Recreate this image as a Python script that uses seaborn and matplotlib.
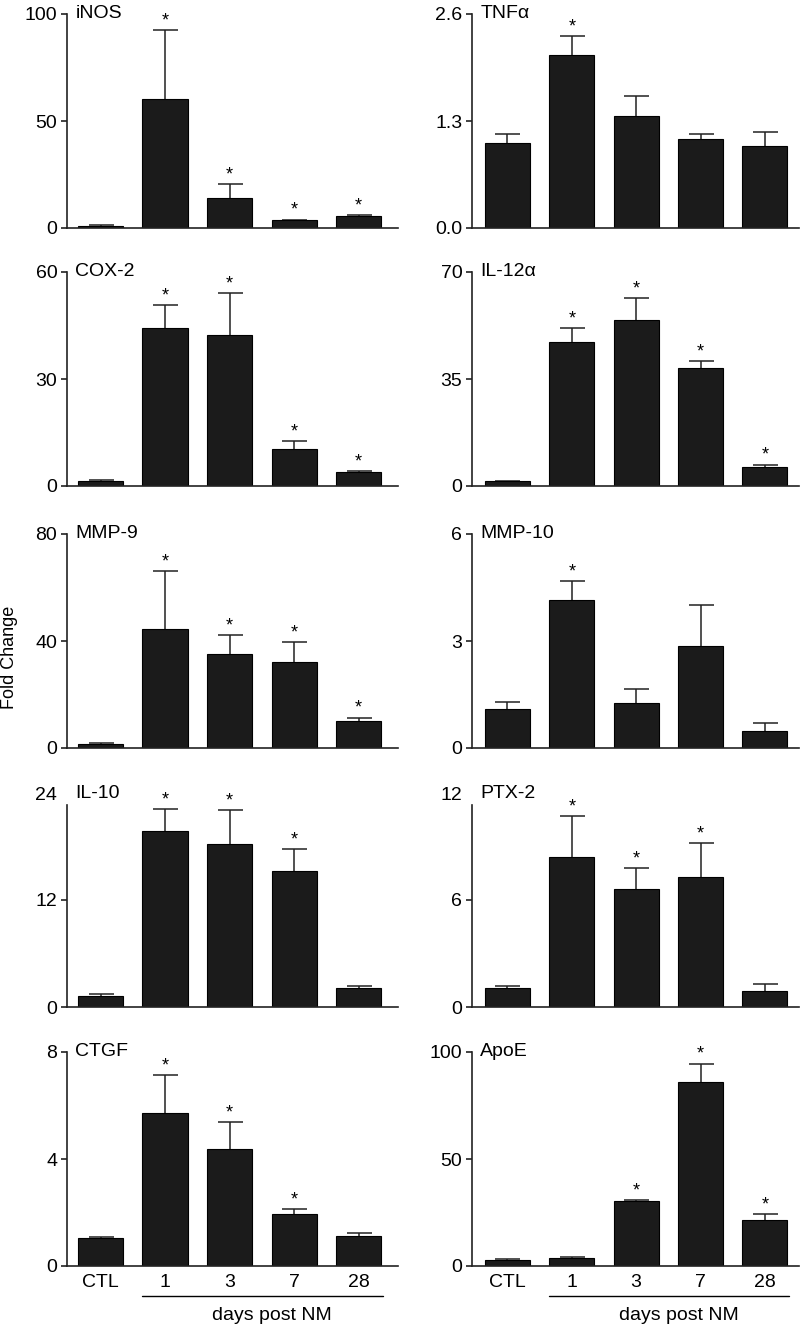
import matplotlib.pyplot as plt
import seaborn as sns
import pandas as pd

sns.set_theme(style="ticks")
plt.rcParams['font.family'] = ['Liberation Sans', 'DejaVu Sans']

# groups on the x axis
groups = ["CTL", "1", "3", "7", "28"]

# mean fold change and top of the (upper) error bar
inos = [1.0, 60.2, 14.2, 3.6, 5.5]
inos_top = [1.3, 92.5, 20.6, 3.9, 5.9]
inos_sig = [0, 1, 1, 1, 1]
inos_ticks = [0, 50, 100]

tnf = [1.03, 2.10, 1.355, 1.083, 0.998]
tnf_top = [1.136, 2.33, 1.60, 1.14, 1.168]
tnf_sig = [0, 1, 0, 0, 0]
tnf_ticks = [0.0, 1.3, 2.6]

cox2 = [1.5, 44.2, 42.2, 10.5, 3.8]
cox2_top = [1.8, 50.7, 54.2, 12.6, 4.1]
cox2_sig = [0, 1, 1, 1, 1]
cox2_ticks = [0, 30, 60]

il12 = [1.5, 47.1, 54.2, 38.6, 6.3]
il12_top = [1.75, 51.7, 61.4, 40.8, 7.0]
il12_sig = [0, 1, 1, 1, 1]
il12_ticks = [0, 35, 70]

mmp9 = [1.5, 44.4, 35.0, 32.1, 10.1]
mmp9_top = [2.0, 66.0, 42.3, 39.5, 11.4]
mmp9_sig = [0, 1, 1, 1, 1]
mmp9_ticks = [0, 40, 80]

mmp10 = [1.08, 4.14, 1.27, 2.85, 0.47]
mmp10_top = [1.28, 4.69, 1.66, 4.00, 0.69]
mmp10_sig = [0, 1, 0, 0, 0]
mmp10_ticks = [0, 3, 6]

il10 = [1.2, 19.7, 18.3, 15.3, 2.1]
il10_top = [1.5, 22.2, 22.1, 17.7, 2.3]
il10_sig = [0, 1, 1, 1, 0]
il10_ticks = [0, 12, 24]

ptx2 = [1.05, 8.39, 6.64, 7.29, 0.90]
ptx2_top = [1.16, 10.71, 7.79, 9.21, 1.29]
ptx2_sig = [0, 1, 1, 1, 0]
ptx2_ticks = [0, 6, 12]

ctgf = [1.04, 5.73, 4.39, 1.95, 1.13]
ctgf_top = [1.10, 7.13, 5.38, 2.14, 1.25]
ctgf_sig = [0, 1, 1, 1, 0]
ctgf_ticks = [0, 4, 8]

apoe = [2.8, 3.9, 30.3, 85.8, 21.6]
apoe_top = [3.1, 4.2, 30.8, 94.6, 24.4]
apoe_sig = [0, 0, 1, 1, 1]
apoe_ticks = [0, 50, 100]

panels = [
    ("iNOS", inos, inos_top, inos_sig, inos_ticks),
    ("TNFα", tnf, tnf_top, tnf_sig, tnf_ticks),
    ("COX-2", cox2, cox2_top, cox2_sig, cox2_ticks),
    ("IL-12α", il12, il12_top, il12_sig, il12_ticks),
    ("MMP-9", mmp9, mmp9_top, mmp9_sig, mmp9_ticks),
    ("MMP-10", mmp10, mmp10_top, mmp10_sig, mmp10_ticks),
    ("IL-10", il10, il10_top, il10_sig, il10_ticks),
    ("PTX-2", ptx2, ptx2_top, ptx2_sig, ptx2_ticks),
    ("CTGF", ctgf, ctgf_top, ctgf_sig, ctgf_ticks),
    ("ApoE", apoe, apoe_top, apoe_sig, apoe_ticks),
]

W, H = 802, 1324
fig = plt.figure(figsize=(W / 100, H / 100), dpi=100)

# pixel layout of the grid
row_zero = [228, 486, 748, 1007, 1266]
ax_h = 214
col_x = [(67, 331, (-0.52, 4.61)), (472, 327, (-0.55, 4.53))]
# row 4 has a shortened spine (top tick not drawn)
spine_top = {"IL-10": 22.6, "PTX-2": 11.31}

bar_color = "#1b1b1b"
line_color = "#222222"
fs = 14

for k, (name, vals, tops, sig, ticks) in enumerate(panels):
    r, c = divmod(k, 2)
    x0, w, xlim = col_x[c]
    ax = fig.add_axes([x0 / W, 1 - row_zero[r] / H, w / W, ax_h / H])

    df = pd.DataFrame({"group": groups, "value": vals})
    sns.barplot(data=df, x="group", y="value", order=groups, ax=ax,
                color=bar_color, edgecolor="black", linewidth=0.8,
                width=0.70, saturation=1, zorder=2)

    # upper-only error bars, lower cap hidden
    lower = [0] * len(vals)
    upper = [t - v for t, v in zip(tops, vals)]
    _, caps, _ = ax.errorbar(range(len(vals)), vals, yerr=[lower, upper],
                             fmt="none", ecolor=line_color, elinewidth=1.1,
                             capsize=9, capthick=1.1, zorder=1)
    caps[0].set_visible(False)

    for i, s in enumerate(sig):
        if s:
            ax.annotate("*", (i, tops[i]), xytext=(0, 0.5),
                        textcoords="offset points", ha="center", va="bottom",
                        fontsize=13, color="black")

    ax.set_xlim(*xlim)
    ax.set_ylim(ticks[0], ticks[-1])
    ax.set_yticks(ticks)
    if name == "TNFα":
        ax.set_yticklabels([f"{t:.1f}" for t in ticks])
    else:
        ax.set_yticklabels([str(t) for t in ticks])
    ax.set_xlabel("")
    ax.set_ylabel("")

    sns.despine(ax=ax)
    for sp in ("left", "bottom"):
        ax.spines[sp].set_color(line_color)
        ax.spines[sp].set_linewidth(1.2)
    if name in spine_top:
        ax.spines["left"].set_bounds(0, spine_top[name])
        ax.yaxis.get_major_ticks()[-1].tick1line.set_visible(False)

    ax.tick_params(axis="y", direction="out", length=4, width=1.2,
                   color=line_color, labelsize=fs, pad=3, labelcolor="black")
    ax.tick_params(axis="x", length=0, labelsize=fs, pad=6,
                   labelcolor="black")
    if r < 4:
        ax.set_xticklabels([])

    ax.annotate(name, (0, 1), xycoords="axes fraction", xytext=(6, 0),
                textcoords="offset points", ha="left", va="center",
                fontsize=fs, color="black")

    if r == 4:
        tr = ax.get_xaxis_transform()
        ax.plot([0.65, 4.37], [-0.140, -0.140], transform=tr, color="black",
                linewidth=1.0, clip_on=False)
        ax.text(2.66, -0.229, "days post NM", transform=tr, ha="center",
                va="center", fontsize=fs, color="black")

fig.text(10 / W, 1 - 657 / H, "Fold Change", rotation=90, ha="center",
         va="center", fontsize=13, color="black")

fig.savefig("out.png", dpi=100, facecolor="white")
